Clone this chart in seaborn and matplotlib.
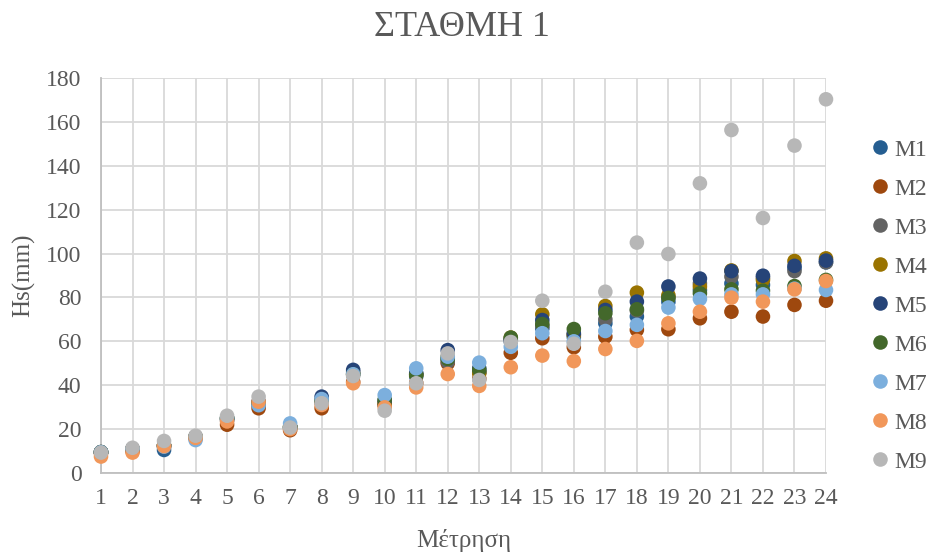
import matplotlib
matplotlib.use("Agg")
import matplotlib.pyplot as plt
import seaborn as sns
import pandas as pd

# Measurement index (x axis)
measurements = list(range(1, 25))

# Hs (mm) per series
M1 = [9.5, 10.5, 10.5, 16, 24, 31, 20.5, 32, 45, 31, 44, 52, 46, 60, 65.9, 62, 68.2, 71.3, 78, 83.4, 86.4, 85.7, 93.3, 96]
M2 = [9, 10, 12, 16, 22, 29.5, 19.5, 29.5, 41.5, 31, 41, 50, 43, 54.8, 61.4, 57.3, 62.1, 65.2, 65.5, 70.5, 73.5, 71.3, 76.6, 78.5]
M3 = [9.5, 11, 12.5, 16.5, 24.5, 32, 21, 33, 46, 32, 45, 50.7, 46, 60.5, 67, 63, 70, 74, 80, 86.4, 89.5, 89, 92, 96]
M4 = [9.5, 11, 12.5, 16.5, 25, 32, 21, 33, 45, 32, 44.7, 53, 45.4, 61.7, 72.3, 63, 76.1, 82.2, 81, 85, 92.3, 88, 96.6, 97.8]
M5 = [9.5, 11, 12.5, 16.5, 25, 32.5, 21, 34.8, 47, 33, 45.5, 56, 47.7, 61, 69.7, 63.7, 74.3, 78.1, 85, 88.6, 92, 89.9, 94.4, 96.8]
M6 = [9.5, 11, 12.5, 16.5, 25, 32, 21, 33, 45, 33.4, 44.7, 52, 47, 61.7, 67.9, 65.6, 72.8, 74.6, 79.8, 81.9, 83.7, 83.1, 85.2, 88]
M7 = [9.5, 11, 12, 15, 25, 30.9, 22.6, 33.7, 45, 35.5, 47.7, 53, 50.3, 57.5, 63.7, 60, 64.7, 67.5, 75.4, 79.3, 81.4, 81.4, 84, 83.4]
M8 = [7.5, 9.3, 12.3, 16, 23.5, 32.5, 20, 31, 40.9, 29.9, 39, 45.1, 39.7, 48.2, 53.5, 51, 56.5, 60.2, 68.2, 73.5, 79.9, 78.1, 83.7, 87.5]
M9 = [9.3, 11.5, 14.6, 17, 26.1, 34.8, 20.7, 31.8, 44.2, 28.4, 40.9, 54.5, 42.4, 59.7, 78.5, 58.9, 82.6, 105, 99.8, 132, 156.3, 116.2, 149.2, 170.3]

series_names = ["M1", "M2", "M3", "M4", "M5", "M6", "M7", "M8", "M9"]
series_values = [M1, M2, M3, M4, M5, M6, M7, M8, M9]
colors = ["#255E91", "#9E480E", "#636363", "#997300", "#264478",
          "#43682B", "#7CAFDD", "#F1975A", "#B7B7B7"]

y_ticks = list(range(0, 181, 20))

rows = []
for name, vals in zip(series_names, series_values):
    for m, v in zip(measurements, vals):
        rows.append({"Μέτρηση": m, "Hs(mm)": v, "series": name})
df = pd.DataFrame(rows)

sns.set_theme(style="white")
plt.rcParams["font.family"] = ["Liberation Serif", "DejaVu Serif"]
text_color = "#595959"

fig = plt.figure(figsize=(9.32, 5.58), dpi=100)
ax = fig.add_axes([101 / 932, 1 - 473 / 558, 725 / 932, 395 / 558])

sns.scatterplot(data=df, x="Μέτρηση", y="Hs(mm)", hue="series",
                palette=colors, hue_order=series_names, s=110,
                linewidth=0, ax=ax, clip_on=False, zorder=3)

ax.set_xlim(1, 24)
ax.set_ylim(0, 180)
ax.set_xticks(measurements)
ax.set_yticks(y_ticks)
ax.tick_params(axis="both", length=0, labelsize=17, labelcolor=text_color)
ax.tick_params(axis="y", pad=14)
ax.tick_params(axis="x", pad=11)
ax.grid(True, color="#D9D9D9", linewidth=1.3, zorder=0)
ax.set_axisbelow(True)
for side in ["top", "right"]:
    ax.spines[side].set_visible(False)
for side in ["left", "bottom"]:
    ax.spines[side].set_color("#BFBFBF")
    ax.spines[side].set_linewidth(1.3)

ax.set_xlabel("Μέτρηση", fontsize=18, color=text_color, labelpad=14)
ax.set_ylabel("Hs(mm)", fontsize=18, color=text_color, labelpad=8)
fig.text(462 / 932, 1 - 28 / 558, "ΣΤΑΘΜΗ 1", ha="center", va="center",
         fontsize=26, color=text_color)

sns.move_legend(ax, "center left", bbox_to_anchor=(872 / 932, 1 - 306 / 558),
                bbox_transform=fig.transFigure, frameon=False, title=None,
                fontsize=17, labelspacing=0.74, handlelength=0.7,
                handletextpad=0.25, borderpad=0, borderaxespad=0,
                labelcolor=text_color)

fig.savefig("out.png", dpi=100)
